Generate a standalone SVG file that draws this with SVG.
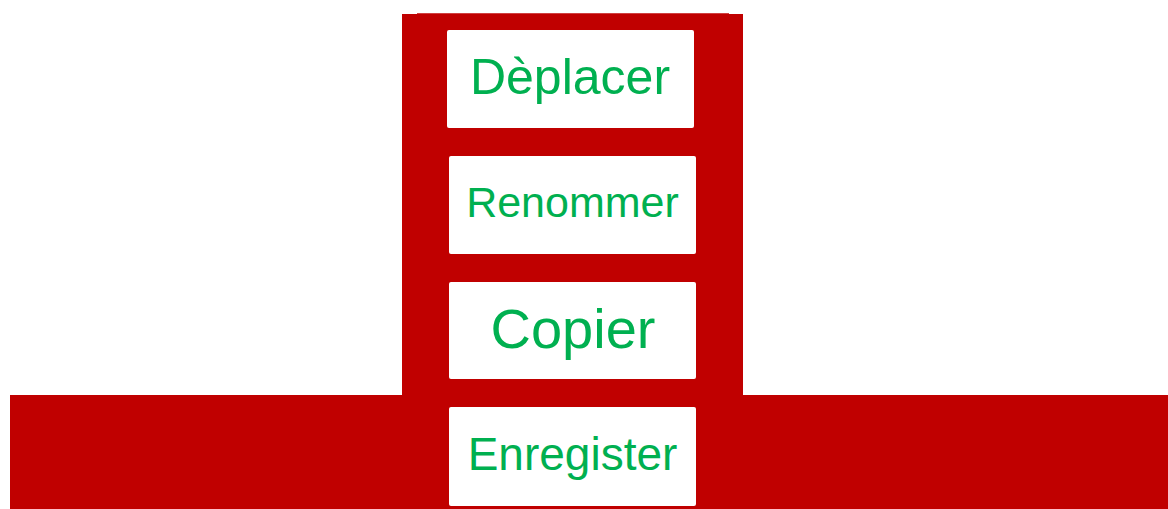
<svg xmlns="http://www.w3.org/2000/svg" width="1168" height="509" viewBox="0 0 1168 509">
<style>
.bg{fill:#C00000}
.box{fill:#FFFFFF}
.lbl{fill:#00B050;font-family:"Liberation Sans",Arial,sans-serif;text-anchor:middle}
</style>
<rect width="1168" height="509" fill="#FFFFFF"/>
<g id="background">
<rect class="bg" x="402" y="14" width="341" height="382"/>
<rect x="417" y="13" width="312" height="1" fill="#D04040"/>
<rect class="bg" x="10" y="395" width="1158" height="114"/>
</g>
<g id="connectors"></g>
<g id="node-deplacer">
<rect class="box" x="447" y="30" width="247" height="98" rx="2"/>
<text class="lbl" x="570" y="94" font-size="50">Dèplacer</text>
</g>
<g id="node-renommer">
<rect class="box" x="449" y="156" width="247" height="98" rx="2"/>
<text class="lbl" x="572.5" y="217" font-size="43">Renommer</text>
</g>
<g id="node-copier">
<rect class="box" x="449" y="282" width="247" height="97" rx="2"/>
<text class="lbl" x="573" y="348" font-size="56">Copier</text>
</g>
<g id="node-enregister">
<rect class="box" x="449" y="407" width="247" height="99" rx="2"/>
<text class="lbl" x="572.5" y="470" font-size="46">Enregister</text>
</g>
</svg>
